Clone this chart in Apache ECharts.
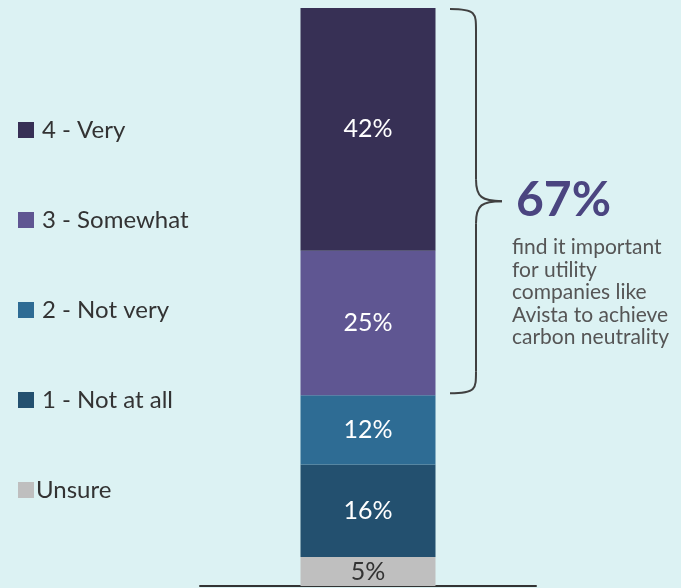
<!DOCTYPE html>
<html>
<head>
<meta charset="utf-8">
<script src="https://cdn.jsdelivr.net/npm/echarts@6/dist/echarts.min.js"></script>
<style>
  html, body { margin: 0; padding: 0; background: #dcf2f3; }
  #chart { width: 681px; height: 588px; }
</style>
</head>
<body>
<div id="chart"></div>
<script>
// stacked from the bottom up
const seriesNames = ['Unsure', '1 - Not at all', '2 - Not very', '3 - Somewhat', '4 - Very'];
const seriesValues = [5, 16, 12, 25, 42];
const seriesColors = ['#bfbfbf', '#23506f', '#2e6c94', '#5f5692', '#373055'];
const legendOrder = ['4 - Very', '3 - Somewhat', '2 - Not very', '1 - Not at all', 'Unsure'];
const category = ['Importance'];
const calloutValue = '67%';
const calloutLines = ['find it important', 'for utility', 'companies like', 'Avista to achieve', 'carbon neutrality'];

const FONT = 'Lato, "Noto Sans", sans-serif';
const chart = echarts.init(document.getElementById('chart'));

const series = seriesNames.map((name, i) => ({
  name,
  type: 'bar',
  stack: 'total',
  barWidth: 135,
  data: [seriesValues[i]],
  itemStyle: { color: seriesColors[i] },
  label: {
    show: true,
    position: 'inside',
    formatter: '{c}%',
    fontFamily: FONT,
    fontSize: 25,
    color: name === 'Unsure' ? '#333333' : '#ffffff'
  }
}));

chart.setOption({
  backgroundColor: '#dcf2f3',
  animation: false,
  legend: {
    orient: 'vertical',
    left: 13,
    top: 113,
    icon: 'rect',
    itemWidth: 16,
    itemHeight: 16,
    itemGap: 66,
    selectedMode: false,
    data: legendOrder.map(n => n === 'Unsure'
      ? { name: n, textStyle: { padding: [0, 0, 0, -3] } }
      : { name: n }),
    textStyle: { fontFamily: FONT, fontSize: 24, color: '#333333', lineHeight: 24, padding: [0, 0, 0, 3] }
  },
  grid: { left: 200, width: 336, top: 8, bottom: 2 },
  xAxis: {
    type: 'category',
    data: category,
    axisLine: { show: true, lineStyle: { color: '#333333', width: 2 } },
    axisTick: { show: false },
    axisLabel: { show: false }
  },
  yAxis: { type: 'value', min: 0, max: 100, show: false },
  series
});

// brace from the top of the bar down to the top of "2 - Not very"
const topY = chart.convertToPixel({ yAxisIndex: 0 }, 100) + 1;
const botY = chart.convertToPixel({ yAxisIndex: 0 }, seriesValues[0] + seriesValues[1] + seriesValues[2]) - 2;
const midY = (topY + botY) / 2;
const x0 = 450, x1 = 476, x2 = 502, r = 22;
const braceStyle = { fill: 'none', stroke: '#404040', lineWidth: 2 };

const braceParts = [
  { type: 'bezierCurve', shape: { x1: x0, y1: topY, cpx1: x1, cpy1: topY, cpx2: x1, cpy2: topY + 4, x2: x1, y2: topY + r } },
  { type: 'line', shape: { x1: x1, y1: topY + r, x2: x1, y2: midY - r } },
  { type: 'bezierCurve', shape: { x1: x1, y1: midY - r, cpx1: x1, cpy1: midY - 4, cpx2: x1 + 6, cpy2: midY, x2: x2, y2: midY } },
  { type: 'bezierCurve', shape: { x1: x2, y1: midY, cpx1: x1 + 6, cpy1: midY, cpx2: x1, cpy2: midY + 4, x2: x1, y2: midY + r } },
  { type: 'line', shape: { x1: x1, y1: midY + r, x2: x1, y2: botY - r } },
  { type: 'bezierCurve', shape: { x1: x1, y1: botY - r, cpx1: x1, cpy1: botY - 4, cpx2: x1, cpy2: botY, x2: x0, y2: botY } }
].map(p => Object.assign(p, { style: braceStyle }));

chart.setOption({
  graphic: braceParts.concat([
    {
      type: 'text',
      left: 516,
      top: midY - 25,
      style: { text: calloutValue, fontFamily: FONT, fontWeight: 'bold', fontSize: 48, fill: '#4b4580' }
    },
    {
      type: 'text',
      left: 512,
      top: midY + 35,
      style: { text: calloutLines.join('\n'), fontFamily: FONT, fontSize: 21, lineHeight: 22.5, fill: '#555555' }
    }
  ])
});
</script>
</body>
</html>
